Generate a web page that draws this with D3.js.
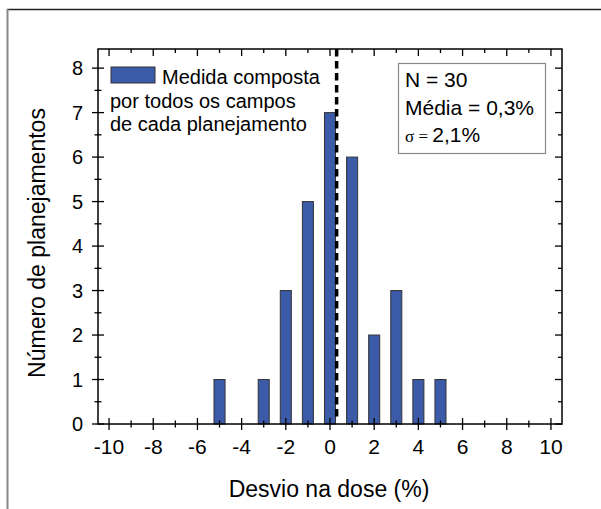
<!DOCTYPE html>
<html><head><meta charset="utf-8">
<script src="https://cdn.jsdelivr.net/npm/d3@7"></script>
<style>body{margin:0;background:#fff}svg{display:block}text{font-family:"Liberation Sans",Arial,sans-serif;fill:#000}</style>
</head><body><svg id="c" width="601" height="509"></svg>
<script>
const bins = [-5, -3, -2, -1, 0, 1, 2, 3, 4, 5];
const counts = [1, 1, 3, 5, 7, 6, 2, 3, 1, 1];
const xTicks = [-10, -8, -6, -4, -2, 0, 2, 4, 6, 8, 10];
const yTicks = [0, 1, 2, 3, 4, 5, 6, 7, 8];
const meanValue = 0.3;
const legendLines = ["Medida composta", "por todos os campos", "de cada planejamento"];
const statsLines = ["N = 30", "Média = 0,3%", "2,1%"];

const svg = d3.select("#c");
const x = d3.scaleLinear().domain([-10.5, 10.5]).range([98, 562]);
const y = d3.scaleLinear().domain([0, 8.43]).range([424, 49]);
const barColor = "#3B5BA9";

// outer frame lines
svg.append("line").attr("x1", 7).attr("x2", 601).attr("y1", 9.5).attr("y2", 9.5).attr("stroke", "#222").attr("stroke-width", 1.5);
svg.append("line").attr("x1", 7.5).attr("x2", 7.5).attr("y1", 9).attr("y2", 509).attr("stroke", "#888").attr("stroke-width", 2);

// bars
const data = bins.map((b, i) => ({b, c: counts[i]}));
svg.append("g").selectAll("rect").data(data).join("rect")
  .attr("x", d => x(d.b - 0.25)).attr("width", d => x(d.b + 0.25) - x(d.b - 0.25))
  .attr("y", d => y(d.c)).attr("height", d => y(0) - y(d.c))
  .attr("fill", barColor).attr("stroke", "#333").attr("stroke-width", 1);

// mean dashed line
svg.append("line").attr("x1", x(meanValue)).attr("x2", x(meanValue))
  .attr("y1", y(8.43)).attr("y2", y(0.15))
  .attr("stroke", "#000").attr("stroke-width", 3.5).attr("stroke-dasharray", "7.5,4.5");

// frame
svg.append("rect").attr("x", 98).attr("y", 49).attr("width", 464).attr("height", 375)
  .attr("fill", "none").attr("stroke", "#000").attr("stroke-width", 1.5);

// ticks
const xMinor = d3.range(-10, 11, 1).filter(v => v % 2 !== 0);
const yMinor = d3.range(0.5, 8.5, 1);
const tk = svg.append("g").attr("stroke", "#000").attr("stroke-width", 1.3);
xTicks.forEach(v => {
  tk.append("line").attr("x1", x(v)).attr("x2", x(v)).attr("y1", y(0) - 6).attr("y2", y(0) + 6);
  tk.append("line").attr("x1", x(v)).attr("x2", x(v)).attr("y1", 49).attr("y2", 56);
});
xMinor.forEach(v => {
  tk.append("line").attr("x1", x(v)).attr("x2", x(v)).attr("y1", y(0) - 3.5).attr("y2", y(0) + 3.5);
  tk.append("line").attr("x1", x(v)).attr("x2", x(v)).attr("y1", 49).attr("y2", 53);
});
yTicks.forEach(v => {
  tk.append("line").attr("y1", y(v)).attr("y2", y(v)).attr("x1", 92).attr("x2", 104);
  tk.append("line").attr("y1", y(v)).attr("y2", y(v)).attr("x1", 555).attr("x2", 562);
});
yMinor.forEach(v => {
  tk.append("line").attr("y1", y(v)).attr("y2", y(v)).attr("x1", 94.5).attr("x2", 101.5);
  tk.append("line").attr("y1", y(v)).attr("y2", y(v)).attr("x1", 558).attr("x2", 562);
});

// tick labels
svg.append("g").selectAll("text").data(xTicks).join("text")
  .attr("x", d => x(d)).attr("y", 454).attr("text-anchor", "middle")
  .attr("font-size", 21).text(d => d);
svg.append("g").selectAll("text").data(yTicks).join("text")
  .attr("x", 83).attr("y", d => y(d) + 7).attr("text-anchor", "end")
  .attr("font-size", 20).text(d => d);

// axis titles
svg.append("text").attr("x", 329).attr("y", 497).attr("text-anchor", "middle")
  .attr("font-size", 23).text("Desvio na dose (%)");
svg.append("text").attr("transform", "translate(45,243) rotate(-90)").attr("text-anchor", "middle")
  .attr("font-size", 23).text("Número de planejamentos");

// legend
svg.append("rect").attr("x", 111).attr("y", 67).attr("width", 44).attr("height", 16)
  .attr("fill", barColor).attr("stroke", "#333").attr("stroke-width", 1);
const lg = svg.append("g").attr("font-size", 20);
lg.append("text").attr("x", 162).attr("y", 84).text(legendLines[0]);
lg.append("text").attr("x", 110).attr("y", 108).text(legendLines[1]);
lg.append("text").attr("x", 110).attr("y", 131).text(legendLines[2]);

// stats box
svg.append("rect").attr("x", 398.5).attr("y", 63.5).attr("width", 147).attr("height", 90)
  .attr("fill", "#fff").attr("stroke", "#888").attr("stroke-width", 1.2);
const st = svg.append("g").attr("font-size", 21);
st.append("text").attr("x", 405).attr("y", 87).text(statsLines[0]);
st.append("text").attr("x", 405).attr("y", 115).text(statsLines[1]);
const s3 = st.append("text").attr("x", 405).attr("y", 142);
s3.append("tspan").attr("font-family", "'Liberation Serif','DejaVu Serif',serif").attr("font-size", 17).text("σ = ");
s3.append("tspan").text(statsLines[2]);
</script></body></html>
